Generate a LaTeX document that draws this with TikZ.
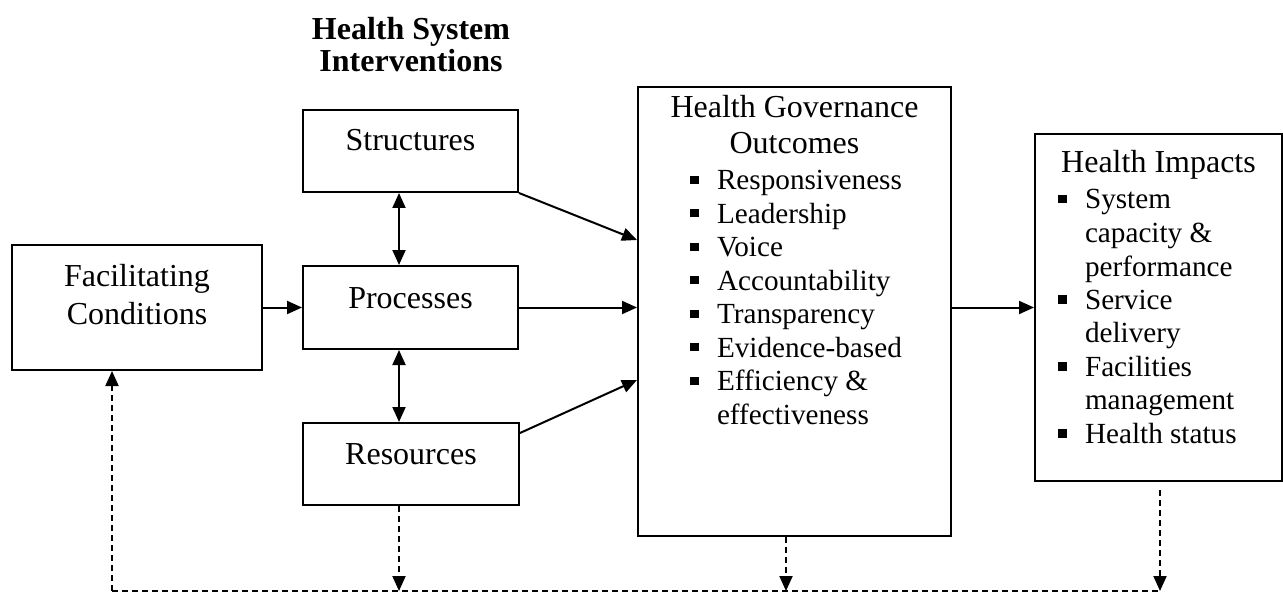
\documentclass[tikz,border=0pt]{standalone}
\usepackage{fontspec}
\setmainfont{Liberation Serif}
\usetikzlibrary{arrows.meta}

\newcommand{\bul}{\makebox[13.5pt][l]{\rule[3pt]{4.3pt}{4.1pt}}}
\newcommand{\ind}{\hspace*{13.5pt}}

\tikzset{
  box/.style={draw, line width=1pt, anchor=north, inner sep=0pt,
    text height=20.5pt, text depth=20.5pt},
  arr/.style={line width=1pt, -{Triangle[length=7.5pt,width=6.5pt]}},
  twoway/.style={line width=1pt,
    {Triangle[length=7.5pt,width=6.5pt]}-{Triangle[length=7.5pt,width=6.5pt]}},
  feedback/.style={arr, dash pattern=on 3pt off 2pt},
  bus/.style={line width=1pt, dash pattern=on 3pt off 2pt}
}

\begin{document}
\begin{tikzpicture}[x=0.5pt,y=-0.5pt,font=\fontsize{16}{19}\selectfont]
\useasboundingbox (0,0) rectangle (1283,593);

\node[font=\fontsize{16}{16}\selectfont\bfseries, anchor=base, inner sep=0pt] (ttl) at (411,40)
  {\parbox[t]{150pt}{\centering Health System\\Interventions}};

\node[box, minimum width=125pt, text depth=42pt] (fac) at (137,244)
  {\parbox[t]{125pt}{\centering Facilitating\\Conditions}};

\node[box, minimum width=107.5pt] (str) at (410.5,109) {Structures};
\node[box, minimum width=107.5pt, text height=21pt] (pro) at (410.5,265) {Processes};
\node[box, minimum width=108pt] (res) at (411,422) {Resources};

\node[box, minimum width=156.5pt, text height=15.5pt, text depth=209pt] (gov) at (794.5,86)
  {\parbox[t]{156.5pt}{{\fontsize{16}{18}\selectfont\centering Health Governance\\Outcomes\par}
   \vspace{1.25pt}
   \fontsize{14.6}{16.75}\selectfont\leftskip=26pt\noindent
   \bul Responsiveness\\
   \bul Leadership\\
   \bul Voice\\
   \bul Accountability\\
   \bul Transparency\\
   \bul Evidence-based\\
   \bul Efficiency \&\\
   \ind effectiveness}};

\node[box, minimum width=123.5pt, text height=19.5pt, text depth=154pt] (imp) at (1158.5,133)
  {\parbox[t]{123.5pt}{{\centering Health Impacts\par}
   \vspace{1.25pt}
   \fontsize{14.6}{16.75}\selectfont\leftskip=11.5pt\noindent
   \bul System\\
   \ind capacity \&\\
   \ind performance\\
   \bul Service\\
   \ind delivery\\
   \bul Facilities\\
   \ind management\\
   \bul Health status}};

% points on the dashed line at the bottom
\coordinate (b1) at (112,591);
\coordinate (b2) at (399,591);
\coordinate (b3) at (786,591);
\coordinate (b4) at (1160,591);

\draw[twoway] (b2 |- str.south) -- (b2 |- pro.north);
\draw[twoway] (b2 |- pro.south) -- (b2 |- res.north);

\draw[arr] (fac.east) -- (fac.east -| pro.west);
\draw[arr] (str.south east) -- ([yshift=-77pt]gov.north west);
\draw[arr] (pro.east) -- (pro.east -| gov.west);
\draw[arr] ([yshift=-5.5pt]res.north east) -- ([yshift=-147pt]gov.north west);
\draw[arr] (imp.west -| gov.east) -- (imp.west);

\draw[feedback] (b2 |- res.south) -- (b2);
\draw[feedback] (b3 |- gov.south) -- (b3);
\draw[feedback] ([yshift=-4pt]b4 |- imp.south) -- (b4);
\draw[bus] (b1) -- (b4);
\draw[feedback] (b1) -- (b1 |- fac.south);

\end{tikzpicture}
\end{document}
